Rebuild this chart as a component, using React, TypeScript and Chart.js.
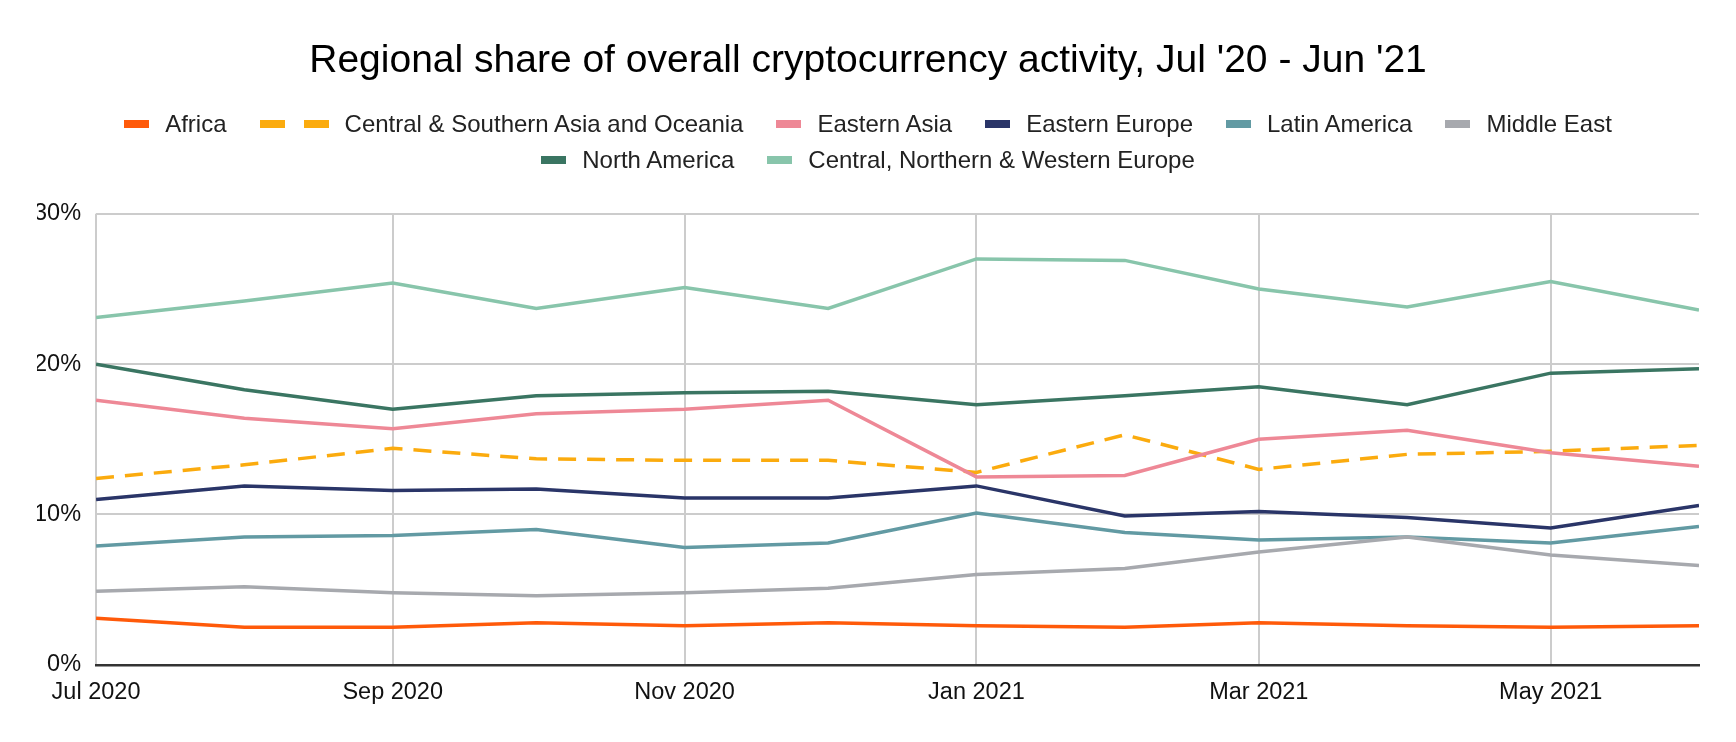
import React, { useEffect, useRef } from "react";
import { Chart, registerables } from "chart.js";

Chart.register(...registerables);

// Days since 1 Jul 2020 for each monthly data point (Jul 2020 .. Jun 2021)
const monthDays = [0, 31, 62, 92, 123, 153, 184, 215, 243, 274, 304, 335];
const tickDays = [0, 62, 123, 184, 243, 304];
const tickLabels = ["Jul 2020", "Sep 2020", "Nov 2020", "Jan 2021", "Mar 2021", "May 2021"];
const yTicks = [0, 10, 20, 30];

const seriesNames = [
  "Africa",
  "Central & Southern Asia and Oceania",
  "Eastern Asia",
  "Eastern Europe",
  "Latin America",
  "Middle East",
  "North America",
  "Central, Northern & Western Europe",
];

const africa = [3.1, 2.5, 2.5, 2.8, 2.6, 2.8, 2.6, 2.5, 2.8, 2.6, 2.5, 2.6];
const centralSouthernAsiaOceania = [12.4, 13.3, 14.4, 13.7, 13.6, 13.6, 12.8, 15.3, 13.0, 14.0, 14.2, 14.6];
const easternAsia = [17.6, 16.4, 15.7, 16.7, 17.0, 17.6, 12.5, 12.6, 15.0, 15.6, 14.1, 13.2];
const easternEurope = [11.0, 11.9, 11.6, 11.7, 11.1, 11.1, 11.9, 9.9, 10.2, 9.8, 9.1, 10.6];
const latinAmerica = [7.9, 8.5, 8.6, 9.0, 7.8, 8.1, 10.1, 8.8, 8.3, 8.5, 8.1, 9.2];
const middleEast = [4.9, 5.2, 4.8, 4.6, 4.8, 5.1, 6.0, 6.4, 7.5, 8.5, 7.3, 6.6];
const northAmerica = [20.0, 18.3, 17.0, 17.9, 18.1, 18.2, 17.3, 17.9, 18.5, 17.3, 19.4, 19.7];
const centralNorthernWesternEurope = [23.1, 24.2, 25.4, 23.7, 25.1, 23.7, 27.0, 26.9, 25.0, 23.8, 25.5, 23.6];

const seriesValues = [
  africa,
  centralSouthernAsiaOceania,
  easternAsia,
  easternEurope,
  latinAmerica,
  middleEast,
  northAmerica,
  centralNorthernWesternEurope,
];

const seriesColors = [
  "#ff5a0a",
  "#fbab0e",
  "#ee8896",
  "#2a3568",
  "#629aa3",
  "#a7a9ae",
  "#3a7562",
  "#88c5ab",
];
const seriesDashed = [false, true, false, false, false, false, false, false];

const legendRows = [
  [0, 1, 2, 3, 4, 5],
  [6, 7],
];

const FONT = "'Liberation Sans', Arial, Helvetica, sans-serif";
const W = 1736;
const H = 742;

function Swatch({ color, dashed }: { color: string; dashed: boolean }) {
  const box = { width: 25, height: 8, background: color };
  if (dashed) {
    return (
      <div style={{ display: "flex", gap: 19 }}>
        <div style={box} />
        <div style={box} />
      </div>
    );
  }
  return <div style={box} />;
}

export default function App() {
  const canvasRef = useRef<HTMLCanvasElement | null>(null);

  useEffect(() => {
    document.body.style.margin = "0";
    document.body.style.overflow = "hidden";
    const canvas = canvasRef.current;
    if (!canvas) return;

    const datasets = seriesNames.map((name, i) => ({
      label: name,
      data: seriesValues[i].map((v, j) => ({ x: monthDays[j], y: v })),
      borderColor: seriesColors[i],
      backgroundColor: seriesColors[i],
      borderWidth: 3.5,
      borderDash: seriesDashed[i] ? [18, 11] : [],
      pointRadius: 0,
      pointHoverRadius: 0,
      tension: 0,
      fill: false,
      order: -i,
    }));

    const chart = new Chart(canvas, {
      type: "line",
      data: { datasets },
      options: {
        responsive: false,
        animation: false,
        layout: { padding: { left: 37, right: 37, top: 0, bottom: 21 } },
        plugins: {
          legend: { display: false },
          tooltip: { enabled: false },
          title: {
            display: true,
            text: "Regional share of overall cryptocurrency activity, Jul '20 - Jun '21",
            color: "#000000",
            font: { family: FONT, size: 39, weight: "normal" },
            padding: { top: 38, bottom: 129 },
          },
        },
        scales: {
          x: {
            type: "linear",
            min: monthDays[0],
            max: monthDays[monthDays.length - 1],
            afterBuildTicks: (scale: any) => {
              scale.ticks = tickDays.map((v) => ({ value: v }));
            },
            ticks: {
              autoSkip: false,
              maxRotation: 0,
              padding: 14,
              color: "#111111",
              font: { family: FONT, size: 23.5 },
              callback: (_v: any, index: number) => tickLabels[index] ?? "",
            },
            grid: { color: "#cccccc", lineWidth: 2, drawTicks: false },
            border: { display: true, color: "#333333", width: 2.5 },
          },
          y: {
            min: yTicks[0],
            max: yTicks[yTicks.length - 1],
            afterBuildTicks: (scale: any) => {
              scale.ticks = yTicks.map((v) => ({ value: v }));
            },
            afterFit: (scale: any) => {
              scale.width = scale.width - 18;
            },
            ticks: {
              padding: 15,
              color: "#111111",
              font: { family: FONT, size: 23.5 },
              callback: (v: any) => `${v}%`,
            },
            grid: {
              color: (ctx: any) => (ctx.tick && ctx.tick.value === 0 ? "rgba(0,0,0,0)" : "#cccccc"),
              lineWidth: 2,
              drawTicks: false,
            },
            border: { display: false },
          },
        },
      },
    } as any);

    return () => {
      chart.destroy();
    };
  }, []);

  const rowTops = [110, 145.5];

  return (
    <div style={{ position: "relative", width: W, height: H, background: "#ffffff", overflow: "hidden" }}>
      <canvas ref={canvasRef} width={W} height={H} style={{ display: "block", width: W, height: H }} />
      {legendRows.map((row, r) => (
        <div
          key={r}
          style={{
            position: "absolute",
            left: 0,
            top: rowTops[r],
            width: W,
            height: 28,
            display: "flex",
            justifyContent: "center",
            alignItems: "center",
            gap: 33,
            fontFamily: FONT,
            fontSize: 24,
            lineHeight: "28px",
            color: "#222222",
            whiteSpace: "nowrap",
          }}
        >
          {row.map((i) => (
            <div key={i} style={{ display: "flex", alignItems: "center", gap: 16 }}>
              <Swatch color={seriesColors[i]} dashed={seriesDashed[i]} />
              <span>{seriesNames[i]}</span>
            </div>
          ))}
        </div>
      ))}
    </div>
  );
}
